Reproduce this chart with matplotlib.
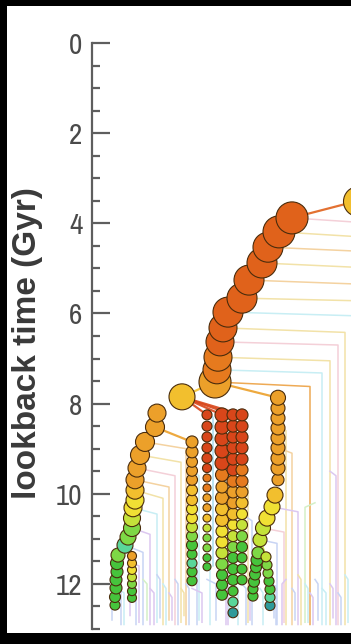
import matplotlib
matplotlib.use("Agg")
import matplotlib.pyplot as plt
from matplotlib import font_manager
from matplotlib.patches import Rectangle
from matplotlib.ticker import MultipleLocator

# colour codes used for the circles
palette = {
    'R': '#d8461a', 'r': '#e0621b', 'o': '#e67a1e', 'O': '#eca02a',
    'Y': '#f2bf2e', 'y': '#f0e034', 'l': '#c4e23a', 'g': '#7ed846',
    'G': '#46c43c', 'c': '#5ad69a', 't': '#2e9a9a',
}

# halo branches: x position, lookback time (Gyr), radius (px), colour code
d0_x = [358]
d0_t = [3.50]
d0_r = [15]
d0_c = "Y"

main_x = [292, 279, 268, 262, 249, 242, 228, 223, 220, 218, 217, 215]
main_t = [3.88, 4.19, 4.53, 4.88, 5.26, 5.66, 5.97, 6.32, 6.63, 6.97, 7.25, 7.52]
main_r = [16, 16, 15, 15, 15, 15, 15, 14, 14, 14, 14, 16]
main_c = "rrrrrrrrrooO"

a_x = [182, 157, 155, 145, 140, 137, 135, 135, 135, 133, 132, 132, 128, 125, 118, 117, 117, 116, 116, 115, 115]
a_t = [7.85, 8.21, 8.52, 8.85, 9.14, 9.43, 9.69, 9.92, 10.14, 10.31, 10.54, 10.76, 10.96, 11.14, 11.36, 11.54,
       11.73, 11.91, 12.09, 12.29, 12.47]
a_r = [13, 9, 9.5, 9.5, 9.5, 9, 9, 9, 9, 9, 8.5, 8.5, 8, 8, 7, 6.5, 6, 6, 6, 5.5, 5]
a_c = "YOOOOOOYyylggcgGGGGGG"

a2_x = [132, 132, 132, 132, 132, 132, 132]
a2_t = [11.38, 11.54, 11.69, 11.85, 12.00, 12.16, 12.31]
a2_r = [4.5, 4.5, 4.5, 4.5, 4.5, 4.5, 4.5]
a2_c = "OYylgGG"

b_x = [192] * 16
b_t = [8.85, 9.07, 9.29, 9.49, 9.69, 9.92, 10.14, 10.34, 10.54, 10.74, 10.94, 11.14, 11.34, 11.54, 11.73, 11.93]
b_r = [6, 6, 5.5, 5.5, 5.5, 5.5, 5.5, 5.5, 5.5, 5.5, 5.5, 5.5, 5, 5, 5, 5]
b_c = "OOOOOYYyylgGGcGG"

c_x = [207] * 16
c_t = [8.25, 8.50, 8.74, 8.98, 9.21, 9.43, 9.65, 9.87, 10.09, 10.31, 10.54, 10.76, 10.98, 11.20, 11.42, 11.62]
c_r = [5, 5, 5, 5, 5, 4.5, 4, 4, 4, 4, 4, 4, 4, 4, 4, 4]
c_c = "RRRRRRooOOYlggGG"

d_x = [222] * 17
d_t = [8.25, 8.52, 8.78, 9.05, 9.32, 9.58, 9.85, 10.09, 10.34, 10.58, 10.83, 11.07, 11.31, 11.56, 11.80,
       12.02, 12.24]
d_r = [7, 7, 7, 7, 7, 6.5, 6, 6.5, 6.5, 6.5, 6, 6, 6, 6, 5.5, 5.5, 5.5]
d_c = "RRRRRoOOYYyylgGGG"

e_x = [233] * 19
e_t = [8.25, 8.50, 8.74, 8.98, 9.23, 9.47, 9.72, 9.96, 10.20, 10.45, 10.69, 10.94, 11.18, 11.42, 11.67,
       11.91, 12.16, 12.40, 12.64]
e_r = [6, 6, 6, 6, 6, 6, 6, 6, 6, 6, 5.5, 5.5, 5.5, 5.5, 5.5, 5.5, 5, 5, 5]
e_c = "RRRRRRoOOYylgGGGGct"

f_x = [242] * 16
f_t = [8.25, 8.50, 8.74, 8.98, 9.23, 9.47, 9.72, 9.96, 10.20, 10.45, 10.69, 10.94, 11.18, 11.42, 11.67, 11.91]
f_r = [6, 6, 6, 6, 6, 6, 6, 6, 6, 5.5, 5.5, 5.5, 5.5, 5, 5, 5]
f_c = "RRRRRooOYylgGGGG"

g_x = [278, 278, 278, 278, 278, 278, 278, 278, 278, 275, 272, 267, 263, 260]
g_t = [7.87, 8.10, 8.32, 8.54, 8.76, 8.98, 9.21, 9.43, 9.69, 10.03, 10.29, 10.54, 10.76, 11.02]
g_r = [7.5, 7, 7, 7, 7, 7, 7, 7, 6, 8, 8, 8, 7.5, 7]
g_c = "OOOOOOOOOYyyll"

g1_x = [258, 257, 256, 255, 254, 253, 253]
g1_t = [11.31, 11.47, 11.63, 11.79, 11.95, 12.11, 12.27]
g1_r = [6, 6, 5.5, 5.5, 5.5, 5, 5]
g1_c = "gGGGGGG"

g2_x = [266, 267, 268, 269, 270, 270, 270]
g2_t = [11.40, 11.58, 11.76, 11.94, 12.12, 12.30, 12.48]
g2_r = [5, 5, 5, 5, 5, 5, 5]
g2_c = "lggGGct"

# faint (unresolved) progenitors: parent point, branch x, top time, colour
faint_px = [292, 279, 268, 262, 249, 242, 228, 223, 220, 218, 217, 215,
            145, 140, 137, 135, 135, 133, 132, 125,
            192, 207, 222, 242, 242, 278, 278, 263, 272, 260, 270, 116, 132, 192, 233, 330, 315,
            115, 118, 128, 132, 143, 150, 157, 163, 169, 175, 181, 186, 192, 207, 207, 222, 233,
            242, 253, 260, 270, 286, 292, 298, 305, 310, 315, 322, 330, 338, 345]
faint_pt = [3.88, 4.19, 4.53, 4.88, 5.26, 5.66, 5.97, 6.32, 6.63, 6.97, 7.25, 7.52,
            8.85, 9.14, 9.43, 9.69, 9.92, 10.31, 10.76, 11.14,
            9.49, 8.25, 10.34, 9.72, 10.45, 8.54, 8.98, 10.76, 10.29, 11.02, 12.0, 11.91, 11.54, 11.54, 12.0,
            9.5, 10.2,
            12.3, 12.1, 12.2, 12.0, 11.9, 12.1, 11.8, 12.0, 12.2, 11.9, 12.1, 12.0, 12.1, 11.4, 11.9, 12.0, 12.3,
            12.0, 12.2, 12.1, 12.4, 11.9, 12.1, 11.8, 12.0, 12.2, 11.9, 12.1, 12.0, 12.2, 11.8]
faint_x = [360, 360, 360, 360, 360, 360, 352, 345, 338, 330, 322, 310,
           186, 181, 175, 169, 163, 157, 150, 143,
           199, 213, 228, 248, 252, 286, 292, 284, 298, 277, 276, 121, 139, 197, 238, 336, 305,
           112, 124, 130, 136, 147, 154, 160, 166, 172, 178, 184, 189, 202, 210, 216, 226, 229,
           246, 250, 263, 274, 282, 295, 301, 308, 313, 318, 326, 333, 341, 348]
faint_top = [3.98, 4.30, 4.62, 4.98, 5.35, 5.72, 6.05, 6.42, 6.70, 7.05, 7.32, 7.62,
             9.00, 9.30, 9.60, 9.85, 10.10, 10.45, 10.90, 11.30,
             9.60, 8.30, 10.40, 9.80, 10.60, 8.60, 9.10, 10.85, 10.40, 11.10, 12.05, 12.00, 11.60, 11.60, 12.10,
             9.60, 10.30,
             12.4, 12.2, 12.3, 12.1, 12.0, 12.2, 11.9, 12.1, 12.3, 12.0, 12.2, 12.1, 12.2, 11.5, 12.0, 12.1, 12.4,
             12.1, 12.3, 12.2, 12.5, 12.0, 12.2, 11.9, 12.1, 12.3, 12.0, 12.2, 12.1, 12.3, 11.9]
faint_bot = [12.9, 12.9, 12.9, 12.9, 12.9, 12.9, 12.9, 12.9, 12.9, 12.9, 12.9, 12.9,
             12.9, 12.85, 12.9, 12.8, 12.9, 12.85, 12.9, 12.9,
             12.8, 11.6, 12.9, 12.85, 12.9, 12.9, 12.9, 12.85, 12.9, 12.9, 12.9, 12.9, 12.85, 12.9, 12.9,
             12.9, 12.85,
             12.8, 12.9, 12.7, 12.9, 12.8, 12.9, 12.75, 12.9, 12.8, 12.9, 12.7, 12.9, 12.85, 12.9, 12.8, 12.9,
             12.75, 12.9, 12.8, 12.9, 12.75, 12.9, 12.8, 12.9, 12.85, 12.9, 12.8, 12.9, 12.75, 12.9, 12.85]
faint_col = ['#f4d0d8', '#f2e2a8', '#f4d2a0', '#f2e2a8', '#f4d2a0', '#f2e2a8', '#c8eef4', '#f2e2a8',
             '#f4d0d8', '#f2e2a8', '#c8eef4', '#eeaa55',
             '#f4d2a0', '#f2e2a8', '#f4d0d8', '#f4d2a0', '#f2e2a8', '#c8eef4', '#dcc8f0', '#c8d4f4',
             '#c8eef4', '#a8dcf0', '#dcc8f0', '#f2e2a8', '#c8d4f4', '#f2e2a8', '#f4d2a0', '#f4d0d8',
             '#dcc8f0', '#c8d4f4', '#c8d4f4', '#c8d4f4', '#dcc8f0', '#c8d4f4', '#c8eef4', '#dcc8f0',
             '#d4f0c8',
             '#c8d4f4', '#c8eef4', '#dcc8f0', '#c8d4f4', '#d4f0c8', '#dcc8f0', '#c8d4f4', '#c8eef4',
             '#dcc8f0', '#c8d4f4', '#f2e2a8', '#c8d4f4', '#dcc8f0', '#c8eef4', '#c8d4f4', '#dcc8f0',
             '#c8eef4', '#c8d4f4', '#dcc8f0', '#c8eef4', '#c8d4f4', '#dcc8f0', '#c8d4f4', '#f2e2a8',
             '#c8eef4', '#dcc8f0', '#c8d4f4', '#c8eef4', '#dcc8f0', '#c8d4f4', '#c8eef4']

# tree structure: branch -> (descendant branch, index of descendant circle)
branches = {
    'd0': (d0_x, d0_t, d0_r, d0_c, None),
    'main': (main_x, main_t, main_r, main_c, ('d0', 0)),
    'a': (a_x, a_t, a_r, a_c, ('main', 11)),
    'a2': (a2_x, a2_t, a2_r, a2_c, ('a', 13)),
    'b': (b_x, b_t, b_r, b_c, ('a', 2)),
    'c': (c_x, c_t, c_r, c_c, ('a', 0)),
    'd': (d_x, d_t, d_r, d_c, ('a', 0)),
    'e': (e_x, e_t, e_r, e_c, ('a', 0)),
    'f': (f_x, f_t, f_r, f_c, ('a', 0)),
    'g': (g_x, g_t, g_r, g_c, ('main', 11)),
    'g1': (g1_x, g1_t, g1_r, g1_c, ('g', 13)),
    'g2': (g2_x, g2_t, g2_r, g2_c, ('g', 13)),
}

# pick a narrow face for the tick numbers if one is installed
fonts = font_manager.fontManager.ttflist
narrow = [f for f in fonts if 'Narrow' in f.name or 'Condensed' in f.name]
condensed = [f for f in fonts if f.stretch in ('condensed', 'semi-condensed', 'extra-condensed')]
tick_kw = {}
if narrow:
    tick_kw = dict(family=narrow[0].name, size=21)
elif condensed:
    tick_kw = dict(family=condensed[0].name, stretch='condensed', size=20)
else:
    tick_kw = dict(family='DejaVu Sans', size=17)
names = {f.name for f in fonts}
label_font = 'Liberation Sans' if 'Liberation Sans' in names else 'DejaVu Sans'

fig = plt.figure(figsize=(3.51, 6.44), dpi=100, facecolor='black')
fig.patches.append(Rectangle((7 / 351, 11 / 644), 1.0, 627 / 644, transform=fig.transFigure,
                             facecolor='white', edgecolor='none', zorder=-10))
ax = fig.add_axes([92 / 351, 15 / 644, 259 / 351, 586 / 644])
ax.set_facecolor('none')
ax.set_zorder(5)

# faint lines
for px, pt, x, top, bot, col in zip(faint_px, faint_pt, faint_x, faint_top, faint_bot, faint_col):
    ax.plot([px, x, x], [pt, top, bot], color=col, lw=1.1, zorder=1)

# links from each branch to its descendant
for key, (xs, ts, rs, cs, desc) in branches.items():
    if desc is None:
        continue
    dx, dt = branches[desc[0]][0][desc[1]], branches[desc[0]][1][desc[1]]
    ax.plot([xs[0], dx], [ts[0], dt], color=palette[cs[0]], lw=1.6, zorder=2, alpha=0.9)

# circles, earliest first so later ones sit on top
for key, (xs, ts, rs, cs, desc) in branches.items():
    sizes = [(2 * r * 0.72) ** 2 for r in rs]
    cols = [palette[ch] for ch in cs]
    ax.scatter(xs[::-1], ts[::-1], s=sizes[::-1], c=cols[::-1], edgecolors='#4a2c0c',
               linewidths=0.8, zorder=3)

ax.set_xlim(92, 351)
ax.set_ylim(13, 0)
ax.yaxis.set_major_locator(MultipleLocator(2))
ax.yaxis.set_minor_locator(MultipleLocator(0.5))
ax.tick_params(axis='y', which='major', direction='in', length=13, width=1.6,
               color='#5e5e5e', labelcolor='#4a4a4a', pad=7)
ax.tick_params(axis='y', which='minor', direction='in', length=6, width=1.6, color='#5e5e5e')
ax.set_yticks(ax.get_yticks())
ax.set_yticklabels([f"{v:g}" for v in ax.get_yticks()], **tick_kw)
ax.set_ylim(13, 0)
ax.set_xticks([])
for side in ['top', 'right', 'bottom']:
    ax.spines[side].set_visible(False)
ax.spines['left'].set_color('#5e5e5e')
ax.spines['left'].set_linewidth(1.6)

ax.set_ylabel('lookback time (Gyr)', fontsize=24, fontweight='bold', family=label_font,
              color='#3a3a3a', va='center')
ax.yaxis.set_label_coords(-64 / 259, (629 - 343) / 586)

fig.savefig('out.png', dpi=100, facecolor=fig.get_facecolor())
